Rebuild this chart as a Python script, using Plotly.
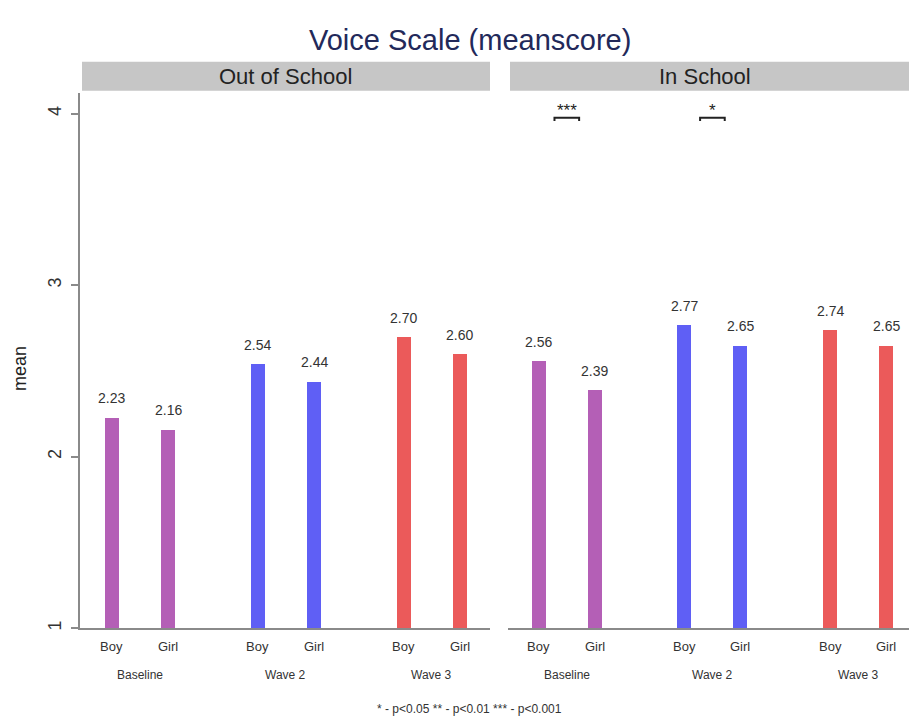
import plotly.graph_objects as go

# ---- data ----
waves = ["Baseline", "Wave 2", "Wave 3"]
sexes = ["Boy", "Girl"]
panels = ["Out of School", "In School"]
out_school = [2.23, 2.16, 2.54, 2.44, 2.70, 2.60]   # Boy/Girl per wave
in_school = [2.56, 2.39, 2.77, 2.65, 2.74, 2.65]
sig_out = ["", "", ""]
sig_in = ["***", "*", ""]
wave_colors = ["#b45fb6", "#5f5ff5", "#eb5a5a"]
footnote = "* - p&lt;0.05 ** - p&lt;0.01 *** - p&lt;0.001"
title = "Voice Scale (meanscore)"

W, H = 909, 726
FONT = "Liberation Sans, Arial, sans-serif"
G = 2.6  # group spacing in x units (Boy-Girl gap = 1)

def px_x(p):
    return p / W

def px_y(p):
    return (H - p) / H

xs = [g * G + s for g in range(len(waves)) for s in range(len(sexes))]
cols = [wave_colors[g] for g in range(len(waves)) for s in range(len(sexes))]
labels = [sexes[s] for g in range(len(waves)) for s in range(len(sexes))]
mids = [g * G + 0.5 for g in range(len(waves))]

fig = go.Figure()
annotations = []
shapes = []

def ann(**kw):
    kw.setdefault("showarrow", False)
    kw.setdefault("xanchor", "center")
    kw.setdefault("yanchor", "middle")
    annotations.append(kw)

panel_data = [(out_school, sig_out, "x", "y", (80, 490), 285),
              (in_school, sig_in, "x2", "y2", (508, 909), 705)]
for pi, (vals, sigs, xr, yr, (l, r), cx) in enumerate(panel_data):
    fig.add_trace(go.Bar(x=xs, y=vals, width=0.25, marker=dict(color=cols, line=dict(width=0)),
                         xaxis=xr, yaxis=yr, showlegend=False, hoverinfo="x+y"))
    for x, v in zip(xs, vals):
        ann(x=x, y=v, xref=xr, yref=yr, text=f"{v:.2f}", yshift=19,
            font=dict(family=FONT, size=14, color="#333333"))
    for x, lab in zip(xs, labels):
        ann(x=x, y=px_y(648), xref=xr, yref="paper", text=lab,
            font=dict(family=FONT, size=13, color="#333333"))
    for m, w in zip(mids, waves):
        ann(x=m, y=px_y(677), xref=xr, yref="paper", text=w,
            font=dict(family=FONT, size=12, color="#333333"))
    for m, s in zip(mids, sigs):
        if s:
            fig.add_trace(go.Scatter(x=[m - 0.22, m - 0.22, m + 0.22, m + 0.22],
                                     y=[3.958, 3.977, 3.977, 3.958], mode="lines",
                                     line=dict(color="#222222", width=2), xaxis=xr, yaxis=yr,
                                     showlegend=False, hoverinfo="skip"))
            ann(x=m, y=3.977, xref=xr, yref=yr, text=s, yanchor="bottom", yshift=-4,
                font=dict(family=FONT, size=17, color="#222222"))
    # strip header
    shapes.append(dict(type="rect", xref="paper", yref="paper", x0=px_x(l + 2), x1=px_x(r),
                       y0=px_y(91), y1=px_y(62), fillcolor="#c6c6c6", line=dict(width=0), layer="below"))
    ann(x=px_x(cx), y=px_y(76.5), xref="paper", yref="paper", text=panels[pi],
        font=dict(family=FONT, size=22, color="#222222"))

ann(x=px_x(470), y=px_y(40), xref="paper", yref="paper", text=title,
    font=dict(family=FONT, size=29, color="#22295a"))
ann(x=px_x(20), y=px_y(370), xref="paper", yref="paper", text="mean", textangle=-90,
    font=dict(family=FONT, size=18, color="#222222"))
ann(x=px_x(470), y=px_y(711), xref="paper", yref="paper", text=footnote,
    font=dict(family=FONT, size=12, color="#333333"))

ydom = [px_y(630), px_y(93)]
yrange = [1, 4 + (114 - 93) / 172]
xrange_left = [-0.57, 6.735]
xrange_right = [-0.55, 6.61]
axis_line = "#8a8a8a"

fig.update_layout(
    width=W, height=H, margin=dict(l=0, r=0, t=0, b=0),
    paper_bgcolor="white", plot_bgcolor="white", bargap=0,
    font=dict(family=FONT, color="#333333"),
    annotations=annotations, shapes=shapes,
    xaxis=dict(domain=[px_x(80), px_x(490)], range=xrange_left, showticklabels=False, ticks="",
               showgrid=False, zeroline=False, showline=True, linecolor=axis_line, linewidth=1.5),
    xaxis2=dict(domain=[px_x(508), 1], range=xrange_right, showticklabels=False, ticks="",
                showgrid=False, zeroline=False, showline=True, linecolor=axis_line, linewidth=1.5,
                anchor="y2"),
    yaxis=dict(domain=ydom, range=yrange, tickvals=[1, 2, 3, 4], ticks="outside", ticklen=7,
               tickcolor=axis_line, tickwidth=1.5, tickangle=-90, ticklabelstandoff=3,
               tickfont=dict(family=FONT, size=18, color="#333333"),
               showgrid=False, zeroline=False, showline=True, linecolor=axis_line, linewidth=1.5,
               anchor="x"),
    yaxis2=dict(domain=ydom, range=yrange, showticklabels=False, ticks="", showgrid=False,
                zeroline=False, showline=False, anchor="x2", matches="y"),
)

fig.write_html("out.html", config={"displayModeBar": False},
               post_script="document.body.style.margin='0px';")
